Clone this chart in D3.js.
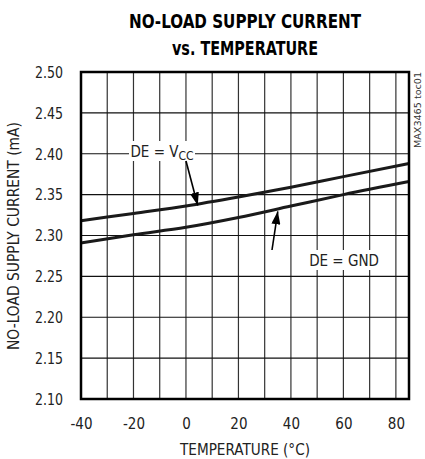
<!DOCTYPE html>
<html>
<head>
<meta charset="utf-8">
<script src="https://cdn.jsdelivr.net/npm/d3@7"></script>
<style>
body { margin: 0; background: #fff; }
text { font-family: "Liberation Sans Narrow", "DejaVu Sans Condensed", sans-serif; }
</style>
</head>
<body>
<div id="chart"></div>
<script>
// data
var temps = [-40, -20, 0, 20, 40, 60, 85];
var deVcc = [2.318, 2.327, 2.336, 2.347, 2.359, 2.372, 2.388];
var deGnd = [2.291, 2.301, 2.310, 2.322, 2.336, 2.350, 2.366];
var xTicks = [-40, -20, 0, 20, 40, 60, 80];
var xGrid = [-30, -20, -10, 0, 10, 20, 30, 40, 50, 60, 70, 80];
var yTicks = [2.10, 2.15, 2.20, 2.25, 2.30, 2.35, 2.40, 2.45, 2.50];

var W = 425, H = 459;
var pLeft = 81, pRight = 409, pTop = 72, pBottom = 399;

var svg = d3.select("#chart")
  .append("svg")
    .attr("width", W)
    .attr("height", H);

var x = d3.scaleLinear().domain([-40, 85]).range([pLeft, pRight]);
var y = d3.scaleLinear().domain([2.10, 2.50]).range([pBottom, pTop]);

// title
svg.append("text")
	.attr("x", 245).attr("y", 28)
	.attr("text-anchor", "middle")
	.attr("font-size", 20).attr("font-weight", "bold")
	.attr("textLength", 232).attr("lengthAdjust", "spacingAndGlyphs")
	.text("NO-LOAD SUPPLY CURRENT");
svg.append("text")
	.attr("x", 245).attr("y", 55)
	.attr("text-anchor", "middle")
	.attr("font-size", 20).attr("font-weight", "bold")
	.attr("textLength", 146).attr("lengthAdjust", "spacingAndGlyphs")
	.text("vs. TEMPERATURE");

// grid
svg.append("g").selectAll("line").data(xGrid).enter().append("line")
	.attr("x1", d => x(d)).attr("x2", d => x(d))
	.attr("y1", pTop).attr("y2", pBottom)
	.attr("stroke", "#333").attr("stroke-width", 1.2);
svg.append("g").selectAll("line").data(yTicks.slice(1, -1)).enter().append("line")
	.attr("x1", pLeft).attr("x2", pRight)
	.attr("y1", d => y(d)).attr("y2", d => y(d))
	.attr("stroke", "#111").attr("stroke-width", 1.2);

// axes (labels only)
var yAxis = svg.append("g")
	.attr("transform", "translate(" + (pLeft - 18) + ",0)")
	.call(d3.axisLeft(y).tickValues(yTicks).tickFormat(d3.format(".2f")).tickSize(0).tickPadding(0));
yAxis.select(".domain").remove();
yAxis.selectAll("text").attr("font-size", 15).attr("font-family", null).attr("fill", "#222").attr("dy", "0.35em")
	.attr("textLength", 28).attr("lengthAdjust", "spacingAndGlyphs");

var xAxis = svg.append("g")
	.attr("transform", "translate(0," + (pBottom + 19) + ")")
	.call(d3.axisBottom(x).tickValues(xTicks).tickFormat(d => String(d)).tickSize(0).tickPadding(0));
xAxis.select(".domain").remove();
xAxis.selectAll("text").attr("font-size", 15).attr("font-family", null).attr("fill", "#222");

// axis titles
svg.append("text")
	.attr("x", 245).attr("y", 455)
	.attr("text-anchor", "middle")
	.attr("font-size", 15).attr("fill", "#222")
	.attr("textLength", 130).attr("lengthAdjust", "spacingAndGlyphs")
	.text("TEMPERATURE (°C)");
svg.append("text")
	.attr("transform", "translate(19,236) rotate(-90)")
	.attr("text-anchor", "middle")
	.attr("font-size", 15).attr("fill", "#222")
	.attr("textLength", 228).attr("lengthAdjust", "spacingAndGlyphs")
	.text("NO-LOAD SUPPLY CURRENT (mA)");

// watermark
svg.append("text")
	.attr("transform", "translate(421,72) rotate(-90)")
	.attr("text-anchor", "end")
	.attr("font-size", 9).attr("fill", "#333")
	.attr("textLength", 76).attr("lengthAdjust", "spacingAndGlyphs")
	.text("MAX3465 toc01");

// curves
var line = d3.line()
	.x((d, i) => x(temps[i]))
	.y(d => y(d))
	.curve(d3.curveMonotoneX);
[deVcc, deGnd].forEach(function (s) {
	svg.append("path")
		.attr("d", line(s))
		.attr("fill", "none")
		.attr("stroke", "#1a1a1a")
		.attr("stroke-width", 3);
});

// frame
svg.append("rect")
	.attr("x", pLeft).attr("y", pTop)
	.attr("width", pRight - pLeft).attr("height", pBottom - pTop)
	.attr("fill", "none").attr("stroke", "#000").attr("stroke-width", 2.5);

// annotations
svg.append("defs").append("marker")
	.attr("id", "arr").attr("viewBox", "0 0 13 9")
	.attr("refX", 13).attr("refY", 4.5)
	.attr("markerWidth", 13).attr("markerHeight", 9)
	.attr("markerUnits", "userSpaceOnUse")
	.attr("orient", "auto")
	.append("path").attr("d", "M0,0 L13,4.5 L0,9 z").attr("fill", "#000");

function label(cx, cy, w, parts) {
	svg.append("rect")
		.attr("x", cx - w / 2).attr("y", cy - 10)
		.attr("width", w).attr("height", 20)
		.attr("fill", "#fff");
	var t = svg.append("text")
		.attr("x", cx).attr("y", cy + 5.5)
		.attr("text-anchor", "middle")
		.attr("font-size", 15).attr("fill", "#222");
	parts.forEach(function (p) {
		var s = t.append("tspan").text(p[0]);
		if (p[1]) s.attr("font-size", 12).attr("dy", 3);
	});
}
label(162, 151, 66, [["DE = V"], ["CC", true]]);
label(344, 260, 70, [["DE = GND"]]);

svg.append("line")
	.attr("x1", 186).attr("y1", 161).attr("x2", x(4.5)).attr("y2", y(2.338) + 1)
	.attr("stroke", "#000").attr("stroke-width", 1.6).attr("marker-end", "url(#arr)");
svg.append("line")
	.attr("x1", 272).attr("y1", 250).attr("x2", x(35)).attr("y2", y(2.332) + 2)
	.attr("stroke", "#000").attr("stroke-width", 1.6).attr("marker-end", "url(#arr)");
</script>
</body>
</html>
